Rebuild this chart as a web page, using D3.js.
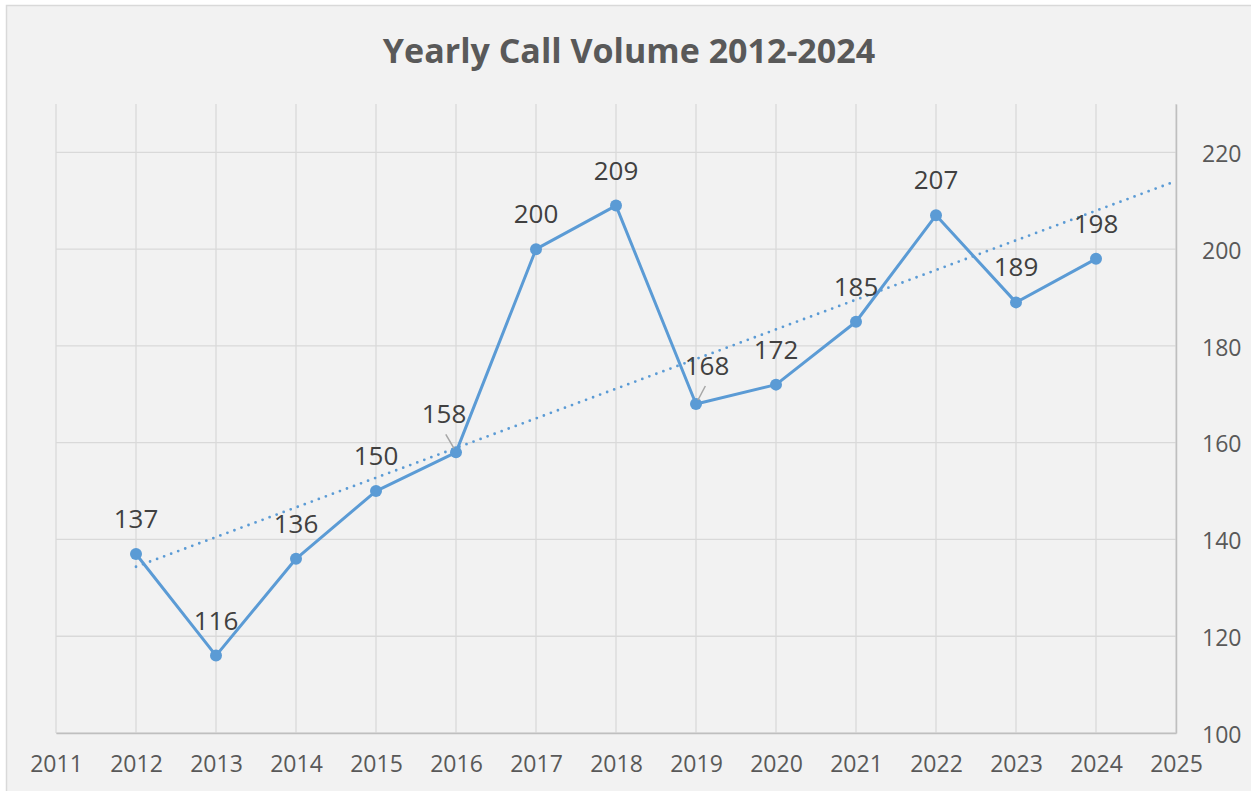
<!DOCTYPE html>
<html>
<head>
<meta charset="utf-8">
<script src="https://cdn.jsdelivr.net/npm/d3@7"></script>
<style>
    body { margin: 0; background: #ffffff; }
    svg text { font-family: "Open Sans", "Lato", sans-serif; }
</style>
</head>
<body>
<svg id="chart"></svg>
<script>
// data
var years = [2012, 2013, 2014, 2015, 2016, 2017, 2018, 2019, 2020, 2021, 2022, 2023, 2024];
var calls = [137, 116, 136, 150, 158, 200, 209, 168, 172, 185, 207, 189, 198];
var xTicks = [2011, 2012, 2013, 2014, 2015, 2016, 2017, 2018, 2019, 2020, 2021, 2022, 2023, 2024, 2025];
var yTicks = [100, 120, 140, 160, 180, 200, 220];
var chartTitle = "Yearly Call Volume 2012-2024";

var width = 1251, height = 791;
var plot = {left: 56, top: 104, right: 1176, bottom: 733};
var lineColor = "#5b9bd5";

var svg = d3.select("#chart")
    .attr("width", width)
    .attr("height", height);

// chart area background + border
svg.append("rect")
    .attr("x", 6.5).attr("y", 5.5)
    .attr("width", width)
    .attr("height", height)
    .style("fill", "#f2f2f2")
    .style("stroke", "#d9d9d9")
    .style("stroke-width", 1.5);

var x = d3.scaleLinear().domain([2011, 2025]).range([plot.left, plot.right]);
var y = d3.scaleLinear().domain([100, 230]).range([plot.bottom, plot.top]);

svg.append("text")
    .attr("x", 629).attr("y", 63)
    .attr("text-anchor", "middle")
    .style("font-size", "34px")
    .style("font-weight", "bold")
    .style("fill", "#595959")
    .text(chartTitle);

// gridlines
var grid = svg.append("g");
grid.selectAll(".vgrid")
    .data(xTicks)
    .enter().append("line")
    .attr("x1", function (d) { return x(d); })
    .attr("x2", function (d) { return x(d); })
    .attr("y1", plot.top).attr("y2", plot.bottom)
    .style("stroke", "#d9d9d9").style("stroke-width", 1.3);
grid.selectAll(".hgrid")
    .data(yTicks)
    .enter().append("line")
    .attr("x1", plot.left).attr("x2", plot.right)
    .attr("y1", function (d) { return y(d); })
    .attr("y2", function (d) { return y(d); })
    .style("stroke", "#d9d9d9").style("stroke-width", 1.3);

// axes (labels only, Excel style)
var xAxis = svg.append("g")
    .attr("transform", "translate(0," + plot.bottom + ")")
    .call(d3.axisBottom(x).tickValues(xTicks).tickFormat(d3.format("d")).tickSize(0).tickPadding(23));
xAxis.select(".domain").style("stroke", "#bfbfbf").style("stroke-width", 1.5);
xAxis.selectAll("text").style("font-size", "23px").style("fill", "#595959").style("font-family", "Open Sans");

var yAxis = svg.append("g")
    .attr("transform", "translate(" + plot.right + ",0)")
    .call(d3.axisRight(y).tickValues(yTicks).tickSize(0).tickPadding(26));
yAxis.select(".domain").style("stroke", "#bfbfbf").style("stroke-width", 1.5);
yAxis.selectAll("text").style("font-size", "23px").style("fill", "#595959")
    .attr("dy", "0.4em");

// linear trendline, forecast forward one period
var mx = d3.mean(years), my = d3.mean(calls);
var sxy = d3.sum(years, function (d, i) { return (d - mx) * (calls[i] - my); });
var sxx = d3.sum(years, function (d) { return (d - mx) * (d - mx); });
var slope = sxy / sxx, icpt = my - slope * mx;
var trendX = [years[0], 2025];
svg.append("line")
    .attr("x1", x(trendX[0])).attr("y1", y(icpt + slope * trendX[0]))
    .attr("x2", x(trendX[1])).attr("y2", y(icpt + slope * trendX[1]))
    .style("stroke", lineColor)
    .style("stroke-width", 2.8)
    .style("stroke-linecap", "round")
    .style("stroke-dasharray", "0 7.5");

// the series
var pts = years.map(function (d, i) { return {year: d, v: calls[i]}; });
svg.append("path")
    .datum(pts)
    .attr("d", d3.line().x(function (d) { return x(d.year); }).y(function (d) { return y(d.v); }))
    .style("fill", "none")
    .style("stroke", lineColor)
    .style("stroke-width", 3)
    .style("stroke-linejoin", "round");

svg.selectAll(".dot")
    .data(pts)
    .enter().append("circle")
    .attr("cx", function (d) { return x(d.year); })
    .attr("cy", function (d) { return y(d.v); })
    .attr("r", 6)
    .style("fill", lineColor);

// labels; a few were dragged off in the original, with leader lines
var moved = {2016: {dx: -12, dy: -38}, 2019: {dx: 11, dy: -38}};
pts.forEach(function (d) {
    var px = x(d.year), py = y(d.v);
    var m = moved[d.year];
    var lx = px + (m ? m.dx : 0), ly = py + (m ? m.dy : -35);
    if (m) {
        svg.append("line")
            .attr("x1", px + m.dx * 0.85).attr("y1", ly + 20)
            .attr("x2", px - (m.dx > 0 ? -2 : 2)).attr("y2", py - 4)
            .style("stroke", "#a6a6a6").style("stroke-width", 1.5);
    }
    svg.append("text")
        .attr("x", lx).attr("y", ly)
        .attr("dy", "0.35em")
        .attr("text-anchor", "middle")
        .style("font-size", "26px")
        .style("fill", "#404040")
        .text(d.v);
});
</script>
</body>
</html>
